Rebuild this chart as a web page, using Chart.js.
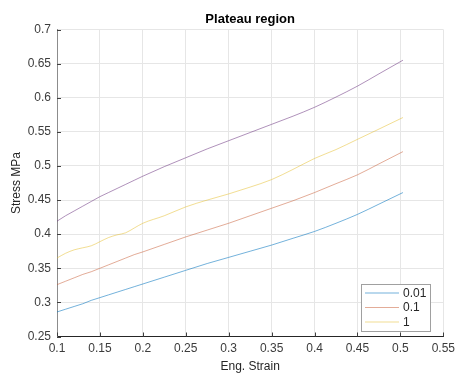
<!DOCTYPE html>
<html>
<head>
<meta charset="utf-8">
<script src="https://cdn.jsdelivr.net/npm/chart.js@4"></script>
<style>
  body { margin: 0; background: #fff; }
  #wrap { width: 460px; height: 376px; }
</style>
</head>
<body>
<div id="wrap"><canvas id="plateauChart" width="460" height="376"></canvas></div>
<script>
// strain samples shared by every curve
const strain = [0.1, 0.11, 0.12, 0.13, 0.14, 0.15, 0.16, 0.17, 0.18, 0.19, 0.2,
    0.225, 0.25, 0.275, 0.3, 0.325, 0.35, 0.375, 0.4, 0.425, 0.45, 0.475, 0.503];

// stress (MPa) per strain rate
const stressRate001 = [0.286, 0.290, 0.294, 0.298, 0.303, 0.307, 0.311, 0.315, 0.319, 0.323, 0.327,
    0.337, 0.347, 0.357, 0.366, 0.375, 0.384, 0.394, 0.404, 0.416, 0.429, 0.444, 0.461];
const stressRate01 = [0.326, 0.331, 0.336, 0.341, 0.345, 0.350, 0.355, 0.360, 0.365, 0.370, 0.374,
    0.385, 0.396, 0.406, 0.416, 0.427, 0.438, 0.449, 0.461, 0.474, 0.487, 0.503, 0.521];
const stressRate1 = [0.365, 0.372, 0.377, 0.380, 0.383, 0.389, 0.395, 0.399, 0.402, 0.409, 0.416,
    0.427, 0.440, 0.450, 0.459, 0.469, 0.480, 0.495, 0.511, 0.524, 0.539, 0.554, 0.571];
const stressUpper = [0.419, 0.427, 0.434, 0.441, 0.448, 0.455, 0.461, 0.467, 0.473, 0.479, 0.485,
    0.499, 0.512, 0.525, 0.537, 0.549, 0.561, 0.573, 0.586, 0.601, 0.617, 0.635, 0.655];

const rateLabels = ["0.01", "0.1", "1"];
const xTicks = [0.1, 0.15, 0.2, 0.25, 0.3, 0.35, 0.4, 0.45, 0.5, 0.55];
const yTicks = [0.25, 0.3, 0.35, 0.4, 0.45, 0.5, 0.55, 0.6, 0.65, 0.7];

const FONT = '"Liberation Sans", Arial, Helvetica, sans-serif';

const toPoints = ys => strain.map((s, i) => ({ x: s, y: ys[i] }));

// title centred over the plot area rather than the whole canvas
const plotTitle = {
    id: "plotTitle",
    afterDraw(chart) {
        const { ctx, chartArea } = chart;
        ctx.save();
        ctx.font = "bold 13px " + FONT;
        ctx.fillStyle = "#000";
        ctx.textAlign = "center";
        ctx.textBaseline = "alphabetic";
        ctx.fillText("Plateau region", (chartArea.left + chartArea.right) / 2, 23);
        ctx.restore();
    }
};

// small inward tick marks on the left and bottom axes
const innerTicks = {
    id: "innerTicks",
    afterDraw(chart) {
        const { ctx, chartArea, scales } = chart;
        ctx.save();
        ctx.strokeStyle = "#404040";
        ctx.lineWidth = 1;
        ctx.beginPath();
        scales.y.ticks.forEach(t => {
            const py = Math.round(scales.y.getPixelForValue(t.value)) + 0.5;
            ctx.moveTo(chartArea.left, py);
            ctx.lineTo(chartArea.left + 4, py);
        });
        scales.x.ticks.forEach(t => {
            const px = Math.round(scales.x.getPixelForValue(t.value)) + 0.5;
            ctx.moveTo(px, chartArea.bottom);
            ctx.lineTo(px, chartArea.bottom - 4);
        });
        ctx.stroke();
        ctx.restore();
    }
};

// boxed legend in the lower right corner of the plot
const legendBox = {
    id: "legendBox",
    afterDraw(chart) {
        const { ctx, chartArea } = chart;
        const w = 70, h = 48;
        const x0 = Math.round(chartArea.right - 12 - w);
        const y0 = Math.round(chartArea.bottom - 5 - h);
        ctx.save();
        ctx.fillStyle = "#fff";
        ctx.fillRect(x0, y0, w, h);
        ctx.strokeStyle = "#a0a0a0";
        ctx.lineWidth = 1;
        ctx.strokeRect(x0 + 0.5, y0 + 0.5, w - 1, h - 1);
        ctx.font = "12px " + FONT;
        ctx.textBaseline = "middle";
        rateLabels.forEach((lab, i) => {
            const ds = chart.data.datasets[i];
            const y = y0 + 9 + i * 14.5;
            ctx.strokeStyle = ds.borderColor;
            ctx.beginPath();
            ctx.moveTo(x0 + 4, y);
            ctx.lineTo(x0 + 38, y);
            ctx.stroke();
            ctx.fillStyle = "#262626";
            ctx.fillText(lab, x0 + 42, y + 0.5);
        });
        ctx.restore();
    }
};

const ctx = document.getElementById("plateauChart").getContext("2d");

new Chart(ctx, {
    type: "line",
    data: {
        datasets: [
            { label: rateLabels[0], data: toPoints(stressRate001), borderColor: "rgba(0, 114, 189, 0.55)" },
            { label: rateLabels[1], data: toPoints(stressRate01), borderColor: "rgba(200, 90, 50, 0.5)" },
            { label: rateLabels[2], data: toPoints(stressRate1), borderColor: "rgba(230, 190, 40, 0.5)" },
            { label: "", data: toPoints(stressUpper), borderColor: "rgba(110, 55, 130, 0.55)" }
        ].map(ds => Object.assign(ds, {
            borderWidth: 1,
            pointRadius: 0,
            cubicInterpolationMode: "monotone",
            fill: false
        }))
    },
    options: {
        responsive: false,
        animation: false,
        layout: { padding: { left: 0, right: 12, top: 29.5, bottom: 0 } },
        plugins: {
            legend: { display: false },
            tooltip: { enabled: false },
            title: { display: false }
        },
        scales: {
            x: {
                type: "linear",
                min: 0.1,
                max: 0.55,
                afterFit(scale) { scale.height = 39.5; },
                afterBuildTicks(scale) { scale.ticks = xTicks.map(v => ({ value: v })); },
                ticks: {
                    color: "#3c3c3c",
                    font: { family: FONT, size: 12 },
                    padding: 5,
                    maxRotation: 0,
                    autoSkip: false,
                    callback: v => String(+v.toFixed(2))
                },
                grid: { color: "#e6e6e6", drawTicks: false },
                border: { color: "#262626", width: 1 },
                title: {
                    display: true,
                    text: "Eng. Strain",
                    color: "#262626",
                    font: { family: FONT, size: 12 },
                    padding: { top: 0, bottom: 2 }
                }
            },
            y: {
                min: 0.25,
                max: 0.7,
                afterFit(scale) { scale.width = 57; },
                afterBuildTicks(scale) { scale.ticks = yTicks.map(v => ({ value: v })); },
                ticks: {
                    color: "#3c3c3c",
                    font: { family: FONT, size: 12 },
                    padding: 6,
                    autoSkip: false,
                    callback: v => String(+v.toFixed(2))
                },
                grid: { color: "#e6e6e6", drawTicks: false },
                border: { color: "#8c8c8c", width: 1 },
                title: {
                    display: true,
                    text: "Stress MPa",
                    color: "#262626",
                    font: { family: FONT, size: 12 },
                    padding: { top: 9, bottom: 0 }
                }
            }
        }
    },
    plugins: [plotTitle, innerTicks, legendBox]
});
</script>
</body>
</html>
